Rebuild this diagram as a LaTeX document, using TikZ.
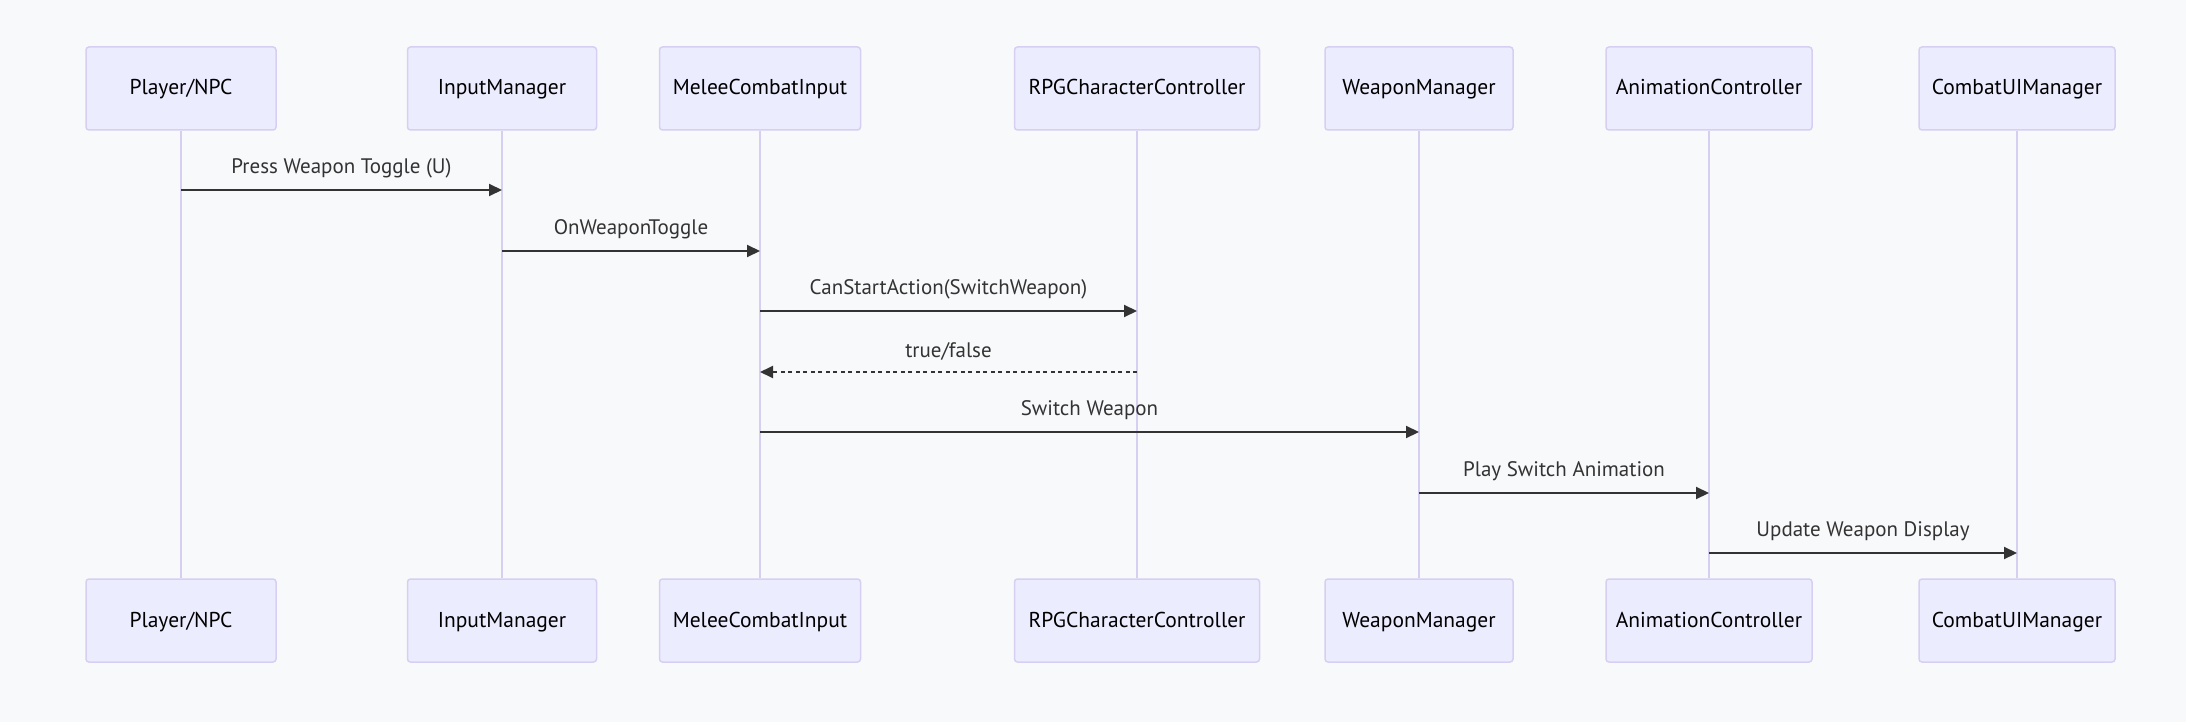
\documentclass[tikz,border=0pt]{standalone}
\usepackage{fontspec}
\setmainfont{PT Sans}
\usepackage{xcolor}
\usepackage{tikz}
\usetikzlibrary{arrows.meta, positioning}
\definecolor{bgcol}{HTML}{F8F9FB}
\definecolor{actfill}{HTML}{ECECFF}
\definecolor{actline}{HTML}{D6CFF2}
\definecolor{msgcol}{HTML}{333333}
\tikzstyle{actor} = [rectangle, rounded corners=3pt,
    minimum height=83pt, text centered, draw=actline, fill=actfill,
    line width=1.5pt, font=\fontsize{21.5}{25}\selectfont, inner sep=0pt,
    text height=13pt, text depth=0pt]
\tikzstyle{lifeline}  = [draw=actline, line width=2pt]
\tikzstyle{msg}       = [-{Triangle[length=13pt, width=12pt]}, line width=2pt, msgcol]
\tikzstyle{retmsg}    = [msg, dash pattern=on 4pt off 3.5pt]
\tikzstyle{msglabel}  = [above=11pt, inner sep=0pt, text=msgcol, font=\fontsize{21}{25}\selectfont]

\begin{document}
\begin{tikzpicture}[x=1pt, y=-1pt]
  \fill[bgcol] (0,0) rectangle (2186,722);
  \useasboundingbox (0,0) rectangle (2186,722);

  % actors, top row
  \node[actor, minimum width=190pt] (player) at (181,88.5)  {Player/NPC};
  \node[actor, minimum width=189pt] (input)  at (502,88.5)  {InputManager};
  \node[actor, minimum width=201pt] (melee)  at (760,88.5)  {MeleeCombatInput};
  \node[actor, minimum width=245pt] (rpg)    at (1137,88.5) {RPGCharacterController};
  \node[actor, minimum width=188pt] (weapon) at (1419,88.5) {WeaponManager};
  \node[actor, minimum width=206pt] (anim)   at (1709,88.5) {AnimationController};
  \node[actor, minimum width=196pt] (ui)     at (2017,88.5) {CombatUIManager};
  % actors, bottom row
  \node[actor, minimum width=190pt] (playerB) at (181,620.5)  {Player/NPC};
  \node[actor, minimum width=189pt] (inputB)  at (502,620.5)  {InputManager};
  \node[actor, minimum width=201pt] (meleeB)  at (760,620.5)  {MeleeCombatInput};
  \node[actor, minimum width=245pt] (rpgB)    at (1137,620.5) {RPGCharacterController};
  \node[actor, minimum width=188pt] (weaponB) at (1419,620.5) {WeaponManager};
  \node[actor, minimum width=206pt] (animB)   at (1709,620.5) {AnimationController};
  \node[actor, minimum width=196pt] (uiB)     at (2017,620.5) {CombatUIManager};

  % lifelines
  \draw[lifeline] (player) -- (playerB); \draw[lifeline] (input) -- (inputB);
  \draw[lifeline] (melee) -- (meleeB);   \draw[lifeline] (rpg) -- (rpgB);
  \draw[lifeline] (weapon) -- (weaponB); \draw[lifeline] (anim) -- (animB);
  \draw[lifeline] (ui) -- (uiB);

  % message rows
  \coordinate (r1) at (0,190); \coordinate (r2) at (0,251);
  \coordinate (r3) at (0,311); \coordinate (r4) at (0,372);
  \coordinate (r5) at (0,432); \coordinate (r6) at (0,493);
  \coordinate (r7) at (0,553);

  \draw[msg] (player |- r1) -- (input |- r1)
    node[msglabel, midway] {Press Weapon Toggle (U)};
  \draw[msg] (input |- r2) -- (melee |- r2)
    node[msglabel, midway] {OnWeaponToggle};
  \draw[msg] (melee |- r3) -- (rpg |- r3)
    node[msglabel, midway] {CanStartAction(SwitchWeapon)};
  \draw[retmsg] (rpg |- r4) -- (melee |- r4)
    node[msglabel, midway] {true/false};
  \draw[msg] (melee |- r5) -- (weapon |- r5)
    node[msglabel, midway] {Switch Weapon};
  \draw[msg] (weapon |- r6) -- (anim |- r6)
    node[msglabel, midway] {Play Switch Animation};
  \draw[msg] (anim |- r7) -- (ui |- r7)
    node[msglabel, midway] {Update Weapon Display};
\end{tikzpicture}
\end{document}
